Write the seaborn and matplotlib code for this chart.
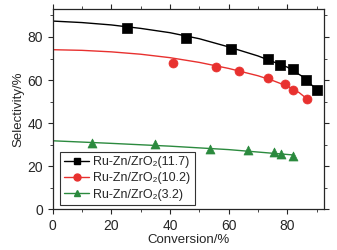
import numpy as np
import pandas as pd
import matplotlib
matplotlib.use('Agg')
import matplotlib.pyplot as plt
import seaborn as sns
from matplotlib.ticker import MultipleLocator

conv_117 = [25.2, 45.6, 60.7, 73.5, 77.6, 81.9, 86.3, 90.2]
sel_117 = [84.2, 79.7, 74.6, 69.9, 67.1, 65.1, 60.0, 55.3]
conv_102 = [41.0, 55.8, 63.4, 73.3, 79.3, 82.1, 86.7]
sel_102 = [68.0, 66.2, 64.2, 61.1, 58.0, 55.3, 51.3]
conv_32 = [13.3, 35.0, 53.6, 66.7, 75.6, 77.9, 82.1]
sel_32 = [31.0, 30.2, 27.9, 27.6, 26.5, 25.7, 24.8]

# fitted curves as drawn in the reference
fit_x_117 = [0, 10, 20, 30, 40, 50, 60, 70, 75, 80, 85, 90]
fit_y_117 = [87.4, 86.7, 85.6, 84.0, 82.0, 79.2, 75.4, 71.2, 68.6, 66.0, 61.8, 55.6]
fit_x_102 = [0, 10, 20, 30, 40, 50, 60, 70, 75, 80, 84, 86.7]
fit_y_102 = [74.1, 73.8, 73.1, 72.0, 70.4, 68.2, 65.4, 62.0, 59.8, 57.2, 54.2, 51.3]
fit_x_32 = [0, 20, 40, 60, 82.1]
fit_y_32 = [31.8, 30.6, 29.3, 27.7, 25.2]

labels = ['Ru-Zn/ZrO\u2082(11.7)', 'Ru-Zn/ZrO\u2082(10.2)', 'Ru-Zn/ZrO\u2082(3.2)']
colors = ['#000000', '#e8312f', '#2b8a3e']
markers = ['s', 'o', '^']

sns.set_style('ticks')
plt.rcParams['font.family'] = ['Liberation Sans', 'DejaVu Sans']

fig = plt.figure(figsize=(3.37, 2.5), dpi=100)
ax = fig.add_axes([0.156, 0.163, 0.8045, 0.801])

series = [(conv_117, sel_117, fit_x_117, fit_y_117),
          (conv_102, sel_102, fit_x_102, fit_y_102),
          (conv_32, sel_32, fit_x_32, fit_y_32)]

handles = []
for (cx, cy, fx, fy), lab, col, mk in zip(series, labels, colors, markers):
    sns.lineplot(x=fx, y=fy, ax=ax, color=col, lw=1.0, sort=False)
    sns.scatterplot(x=cx, y=cy, ax=ax, color=col, marker=mk, s=42,
                    edgecolor=col, linewidth=0.5, zorder=3)
    handles.append(plt.Line2D([], [], color=col, marker=mk, lw=1.0,
                              markersize=5, label=lab))

ax.set_xlim(0, 92.4)
ax.set_ylim(0, 93)
ax.xaxis.set_major_locator(MultipleLocator(20))
ax.xaxis.set_minor_locator(MultipleLocator(10))
ax.yaxis.set_major_locator(MultipleLocator(20))
ax.yaxis.set_minor_locator(MultipleLocator(10))
ax.tick_params(which='both', direction='out', labelsize=10, top=True, right=True)
ax.tick_params(which='major', length=3.5, width=0.8)
ax.tick_params(which='minor', length=2, width=0.6)
for s in ax.spines.values():
    s.set_linewidth(0.9)
    s.set_visible(True)

ax.set_xlabel('Conversion/%', fontsize=9.5, labelpad=1)
ax.set_ylabel('Selectivity/%', fontsize=9.5, labelpad=2)

leg = ax.legend(handles=handles, loc='lower left', bbox_to_anchor=(0.027, 0.02),
                borderaxespad=0, fontsize=9, frameon=True, fancybox=False,
                handlelength=2.0, handletextpad=0.3, labelspacing=0.35,
                borderpad=0.35)
leg.get_frame().set_edgecolor('black')
leg.get_frame().set_linewidth(0.8)

fig.savefig('out.png', dpi=100)
